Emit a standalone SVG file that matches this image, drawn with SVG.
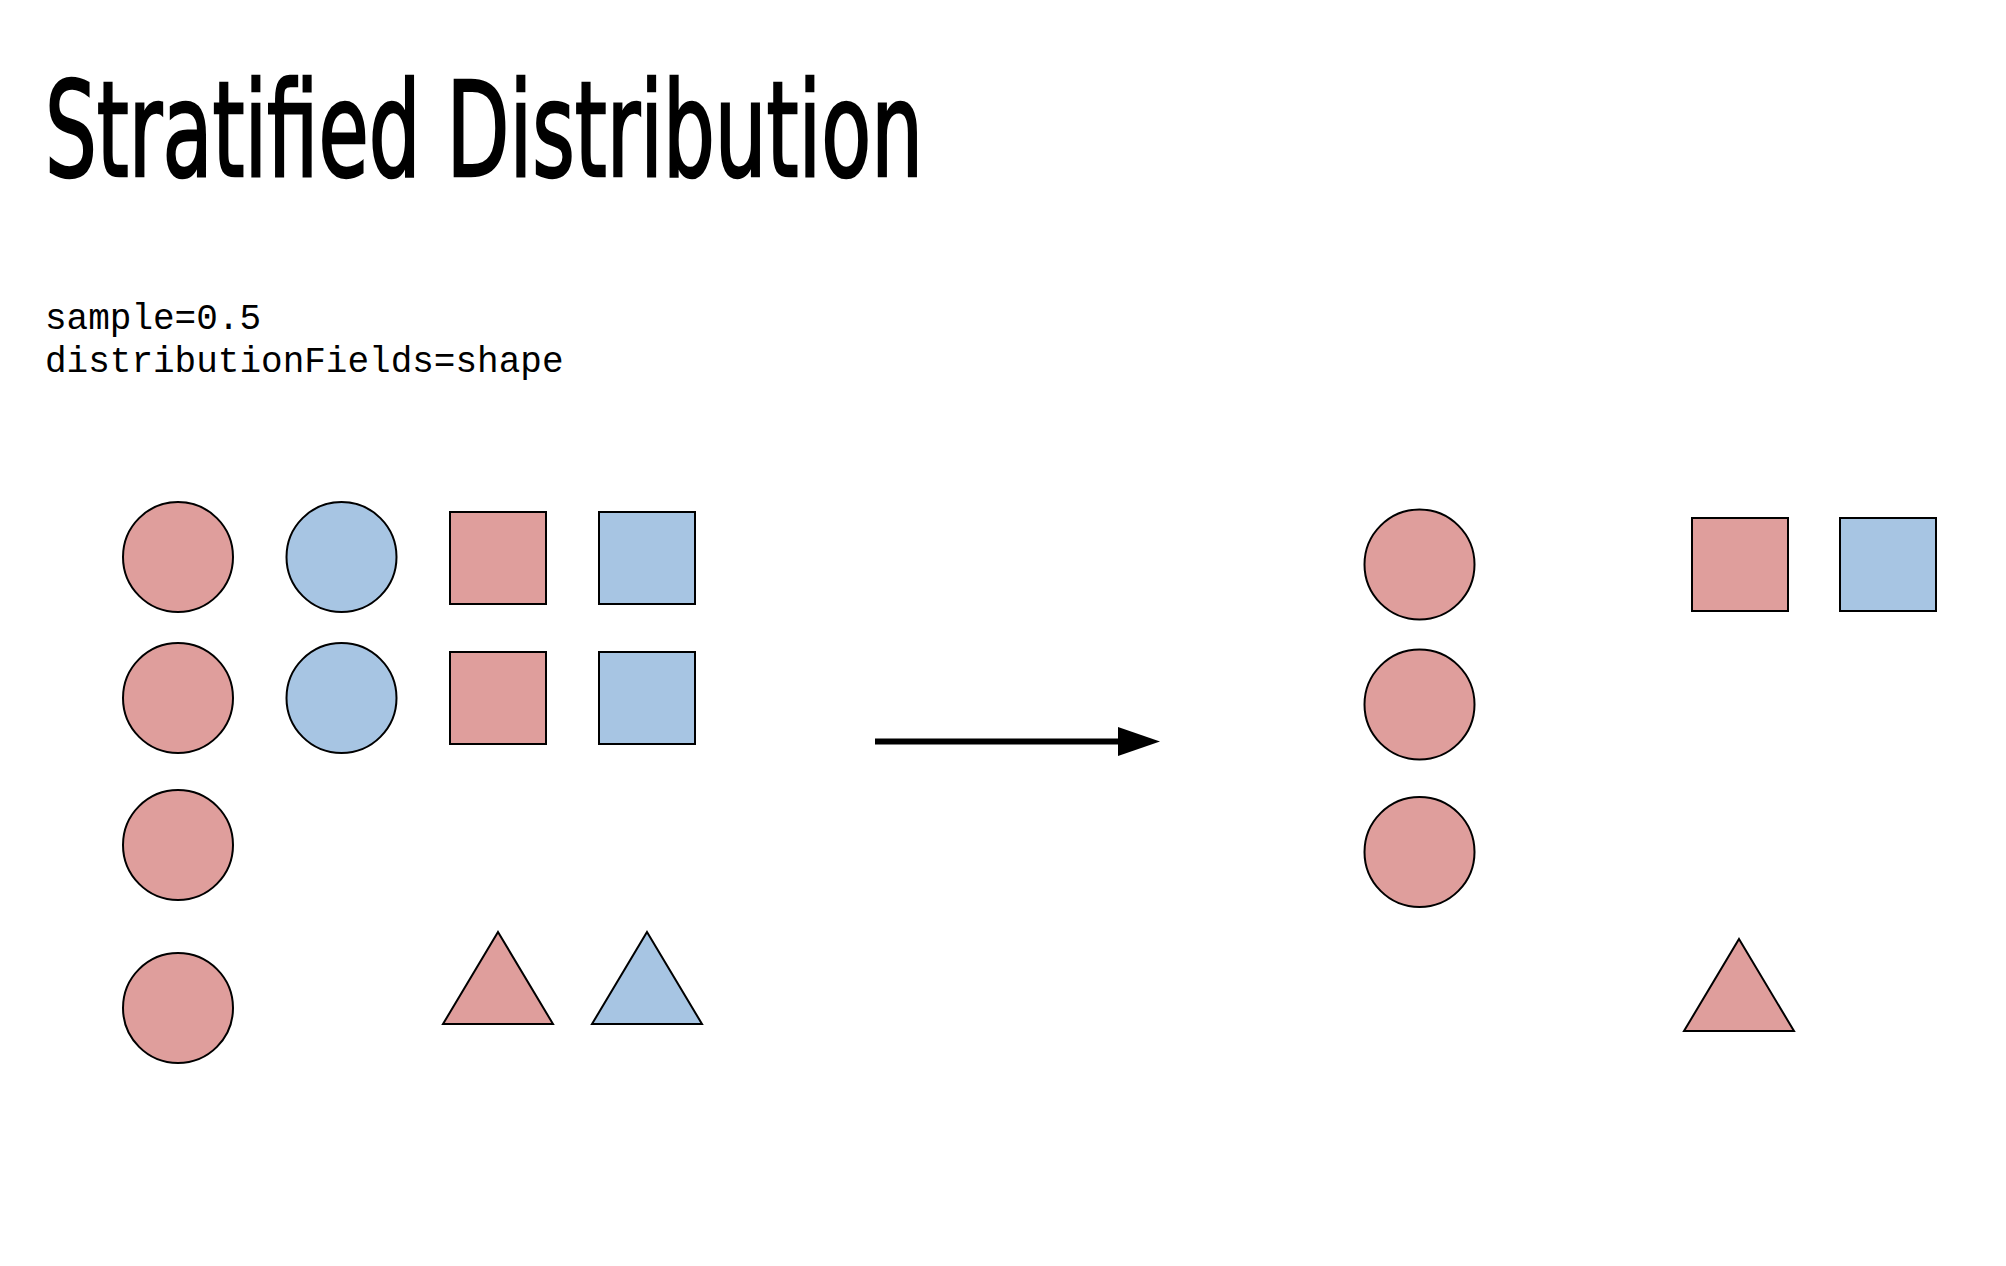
<svg xmlns="http://www.w3.org/2000/svg" width="2006" height="1266" viewBox="0 0 2006 1266">
<style>
.title{font-family:"Liberation Sans Narrow","DejaVu Sans Condensed","Liberation Sans",sans-serif;font-size:132px;fill:#000;stroke:#000;stroke-width:2.5}
.code{font-family:"Liberation Mono","DejaVu Sans Mono",monospace;font-size:36px;fill:#000}
.red{fill:#df9e9c;stroke:#000;stroke-width:2}
.blue{fill:#a7c5e3;stroke:#000;stroke-width:2}
</style>
<rect width="2006" height="1266" fill="#fff"/>
<text class="title" x="45" y="176" textLength="878" lengthAdjust="spacingAndGlyphs">Stratified Distribution</text>
<text class="code" x="45" y="329">sample=0.5</text>
<text class="code" x="45" y="372">distributionFields=shape</text>
<g id="input">
<circle id="c1" class="red" cx="178" cy="557" r="55"/>
<circle id="c2" class="blue" cx="341.5" cy="557" r="55"/>
<rect id="s1" class="red" x="450" y="512" width="96" height="92"/>
<rect id="s2" class="blue" x="599" y="512" width="96" height="92"/>
<circle id="c3" class="red" cx="178" cy="698" r="55"/>
<circle id="c4" class="blue" cx="341.5" cy="698" r="55"/>
<rect id="s3" class="red" x="450" y="652" width="96" height="92"/>
<rect id="s4" class="blue" x="599" y="652" width="96" height="92"/>
<circle id="c5" class="red" cx="178" cy="845" r="55"/>
<circle id="c6" class="red" cx="178" cy="1008" r="55"/>
<polygon id="t1" class="red" points="498,932 553,1024 443,1024"/>
<polygon id="t2" class="blue" points="647,932 702,1024 592,1024"/>
</g>
<g id="connectors">
<line x1="875" y1="741.5" x2="1120" y2="741.5" stroke="#000" stroke-width="6"/>
<polygon points="1118,727 1160,741.5 1118,756" fill="#000"/>
</g>
<g id="output">
<circle id="o1" class="red" cx="1419.5" cy="564.5" r="55"/>
<circle id="o2" class="red" cx="1419.5" cy="704.5" r="55"/>
<circle id="o3" class="red" cx="1419.5" cy="852" r="55"/>
<rect id="o4" class="red" x="1692" y="518" width="96" height="93"/>
<rect id="o5" class="blue" x="1840" y="518" width="96" height="93"/>
<polygon id="o6" class="red" points="1739,939 1794,1031 1684,1031"/>
</g>
</svg>
